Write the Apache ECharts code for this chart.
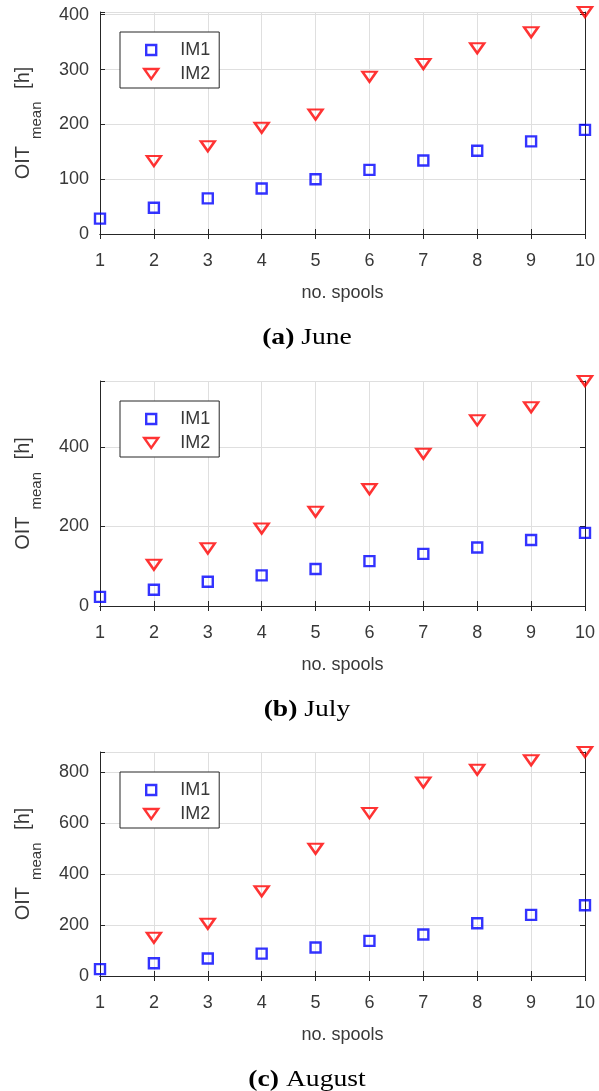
<!DOCTYPE html>
<html>
<head>
<meta charset="utf-8">
<script src="https://cdn.jsdelivr.net/npm/echarts@6/dist/echarts.min.js"></script>
<style>
  html, body { margin: 0; padding: 0; background: #ffffff; }
  #chart { width: 599px; height: 1091px; }
</style>
</head>
<body>
<div id="chart"></div>
<script>
// Number of spools on the x axis
const spools = [1, 2, 3, 4, 5, 6, 7, 8, 9, 10];

// Mean oxidation induction time [h] per month and installation method
const juneIM1 = [28, 48, 65, 83, 100, 117, 134, 152, 169, 190];
const juneIM2 = [null, 133, 160, 194, 218, 287, 310, 339, 368, 405];
const julyIM1 = [23, 41, 61, 77, 93, 113, 131, 147, 166, 184];
const julyIM2 = [null, 104, 145, 195, 237, 294, 383, 467, 500, 566];
const augIM1 = [27, 50, 69, 88, 112, 138, 163, 207, 240, 278];
const augIM2 = [null, 150, 205, 333, 500, 640, 760, 810, 848, 880];

// Y tick spacing per panel
const yTickSteps = [100, 200, 200];

// Sub-figure captions
const captionTags = ['(a)', '(b)', '(c)'];
const captionMonths = ['June', 'July', 'August'];

const seriesIM1 = [juneIM1, julyIM1, augIM1];
const seriesIM2 = [juneIM2, julyIM2, augIM2];

// Panel geometry (pixels)
const layout = [
  { top: 12, height: 222 },
  { top: 381, height: 225 },
  { top: 752, height: 224 }
];
const plotLeft = 100;
const plotWidth = 485;

const FRAME = '#262626';
const TEXT = '#383838';
const GRID_LINE = '#dfdfdf';
const SANS = '"Liberation Sans", Arial, Helvetica, sans-serif';
const SERIF = '"Liberation Serif", "Times New Roman", serif';
const SQUARE = 'path://M0,0L10,0L10,10L0,10Z';
const DOWN_TRIANGLE = 'path://M0,0L14,0L7,10Z';
const MARKER_WIDTH = 2.4;

const toPoints = vals => spools
  .map((x, k) => [x, vals[k]])
  .filter(p => p[1] !== null);

const frameLine = { show: true, lineStyle: { color: FRAME, width: 1 } };
const innerTick = { show: true, inside: true, length: 5, lineStyle: { color: FRAME, width: 1 } };

const grids = [], xAxes = [], yAxes = [], series = [], legends = [], graphics = [];

layout.forEach((g, i) => {
  const ymax = Math.max(...seriesIM1[i], ...seriesIM2[i].filter(v => v !== null));
  const step = yTickSteps[i];

  grids.push({ left: plotLeft, width: plotWidth, top: g.top, height: g.height, containLabel: false });

  // bottom axis with labels and grid lines
  xAxes.push({
    type: 'value', gridIndex: i, position: 'bottom',
    min: 1, max: 10, interval: 1,
    axisLine: frameLine, axisTick: innerTick,
    axisLabel: { fontSize: 18, color: TEXT, margin: 18, fontFamily: SANS },
    splitLine: { show: true, lineStyle: { color: GRID_LINE, width: 1 } },
    name: 'no. spools', nameLocation: 'middle', nameGap: 50,
    nameTextStyle: { fontSize: 18, color: TEXT, fontFamily: SANS }
  });
  // top edge of the box
  xAxes.push({
    type: 'value', gridIndex: i, position: 'top',
    min: 1, max: 10, interval: 1,
    axisLine: frameLine, axisTick: innerTick,
    axisLabel: { show: false }, splitLine: { show: false }
  });

  // left axis with labels and grid lines
  yAxes.push({
    type: 'value', gridIndex: i, position: 'left',
    min: 0, max: ymax, interval: step,
    axisLine: frameLine, axisTick: innerTick,
    axisLabel: {
      fontSize: 18, color: TEXT, margin: 11, fontFamily: SANS, padding: [5, 0, 0, 0],
      formatter: v => (v % step === 0 ? String(v) : '')
    },
    splitLine: { show: true, lineStyle: { color: GRID_LINE, width: 1 } },
    name: '{m|OIT}{s|mean}{m| [h]}',
    nameLocation: 'middle', nameRotate: 90, nameGap: 56,
    nameTextStyle: {
      color: TEXT, fontFamily: SANS,
      rich: {
        m: { fontSize: 20, color: TEXT, fontFamily: SANS },
        s: { fontSize: 15, color: TEXT, fontFamily: SANS, padding: [27, 7, 0, 7] }
      }
    }
  });
  // right edge of the box
  yAxes.push({
    type: 'value', gridIndex: i, position: 'right',
    min: 0, max: ymax, interval: step,
    axisLine: frameLine, axisTick: innerTick,
    axisLabel: { show: false }, splitLine: { show: false }
  });

  series.push({
    name: 'IM1', type: 'scatter', xAxisIndex: 2 * i, yAxisIndex: 2 * i,
    data: toPoints(seriesIM1[i]), clip: false,
    symbol: SQUARE, symbolSize: 10,
    itemStyle: { color: 'rgba(0,0,0,0)', borderColor: '#0000ff', borderWidth: MARKER_WIDTH },
    z: 5
  });
  series.push({
    name: 'IM2', type: 'scatter', xAxisIndex: 2 * i, yAxisIndex: 2 * i,
    data: toPoints(seriesIM2[i]), clip: false,
    symbol: DOWN_TRIANGLE, symbolSize: [14, 10],
    itemStyle: { color: 'rgba(0,0,0,0)', borderColor: '#ff0000', borderWidth: MARKER_WIDTH },
    z: 5
  });

  // legend: icons centred near x = 150, labels starting near x = 179
  legends.push({
    orient: 'vertical', left: 120, top: g.top + 20,
    padding: [9, 9, 5, 23], itemGap: 6,
    itemWidth: 14, itemHeight: 10,
    backgroundColor: '#ffffff', borderColor: FRAME, borderWidth: 1, borderRadius: 0,
    selectedMode: false,
    textStyle: { fontSize: 18, color: TEXT, fontFamily: SANS, lineHeight: 18, padding: [0, 0, 0, 17] },
    data: [
      { name: 'IM1', icon: SQUARE, itemStyle: { color: 'rgba(0,0,0,0)', borderColor: '#0000ff', borderWidth: MARKER_WIDTH } },
      { name: 'IM2', icon: DOWN_TRIANGLE, itemStyle: { color: 'rgba(0,0,0,0)', borderColor: '#ff0000', borderWidth: MARKER_WIDTH } }
    ],
    z: 10
  });

  graphics.push({
    type: 'text', x: 307, y: g.top + g.height + 104, scaleX: 1.15,
    style: {
      text: '{b|' + captionTags[i] + '} {r|' + captionMonths[i] + '}',
      align: 'center', verticalAlign: 'middle',
      fontFamily: SERIF, fontSize: 24, fill: '#000000',
      rich: {
        b: { fontFamily: SERIF, fontSize: 24, fontWeight: 'bold', fill: '#000000', color: '#000000' },
        r: { fontFamily: SERIF, fontSize: 24, fill: '#000000', color: '#000000' }
      }
    }
  });
});

const chart = echarts.init(document.getElementById('chart'), null, { renderer: 'canvas' });
chart.setOption({
  animation: false,
  backgroundColor: '#ffffff',
  textStyle: { fontFamily: SANS },
  grid: grids,
  xAxis: xAxes,
  yAxis: yAxes,
  legend: legends,
  series: series,
  graphic: graphics
});
</script>
</body>
</html>
